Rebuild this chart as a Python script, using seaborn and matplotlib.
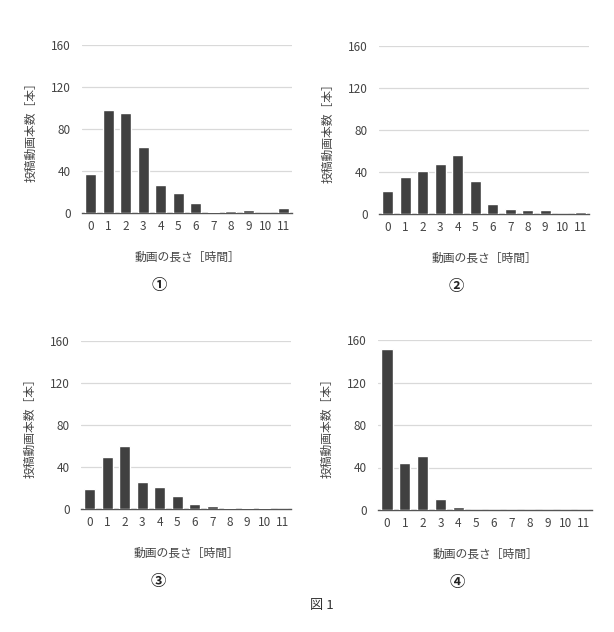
import numpy as np
import pandas as pd
import matplotlib
matplotlib.use("Agg")
import matplotlib.pyplot as plt
import seaborn as sns

# video length in hours (categories) and number of posted videos per chart
hours = [str(h) for h in range(12)]
counts_1 = [37, 98, 95, 63, 27, 19, 10, 1, 2, 3, 0, 5]
counts_2 = [22, 35, 41, 48, 56, 31, 10, 5, 4, 4, 0, 2]
counts_3 = [19, 50, 60, 26, 21, 12, 5, 3, 1, 1, 1, 0]
counts_4 = [152, 44, 51, 10, 3, 0, 0, 0, 0, 0, 0, 0]
panel_marks = ["①", "②", "③", "④"]
y_ticks = [0, 40, 80, 120, 160]

sns.set_theme(style="white")
plt.rcParams["font.family"] = ["Noto Sans CJK JP", "DejaVu Sans"]

W, H = 614, 632
fig = plt.figure(figsize=(W / 100, H / 100), dpi=100)

# axes boxes in pixels: left, top, right, bottom
boxes = [(82, 45, 292, 213), (379, 46, 589, 214),
         (81, 341, 291, 509), (378, 340, 592, 510)]
series = [counts_1, counts_2, counts_3, counts_4]

for (l, t, r, b), vals, mark in zip(boxes, series, panel_marks):
    ax = fig.add_axes([l / W, 1 - b / H, (r - l) / W, (b - t) / H])
    df = pd.DataFrame({"hour": hours, "count": vals})
    sns.barplot(data=df, x="hour", y="count", color="#404040", width=0.64,
                saturation=1, ax=ax, zorder=3)
    ax.set_ylim(0, 160)
    ax.set_yticks(y_ticks)
    ax.yaxis.grid(True, color="#d9d9d9", linewidth=0.9, zorder=0)
    ax.set_axisbelow(True)
    for s in ["top", "right", "left"]:
        ax.spines[s].set_visible(False)
    ax.spines["bottom"].set_color("#555555")
    ax.spines["bottom"].set_linewidth(1.0)
    ax.tick_params(axis="both", length=0, labelsize=8.5, colors="#444444")
    ax.tick_params(axis="x", pad=5)
    ax.tick_params(axis="y", pad=8)
    ax.set_xlabel("動画の長さ［時間］", fontsize=8.5, color="#444444", labelpad=13)
    ax.set_ylabel("投稿動画本数［本］", fontsize=8.5, color="#444444", labelpad=10)
    cx = (l + r) / 2 - 28
    fig.text(cx / W, 1 - (b + 72) / H, mark, fontsize=11, fontweight="bold",
             ha="center", va="center", color="#222222")

fig.text(322 / W, 1 - 605 / H, "図 1", fontsize=9.5, ha="center", va="center",
         color="#333333")

fig.savefig("out.png", dpi=100, facecolor="white")
